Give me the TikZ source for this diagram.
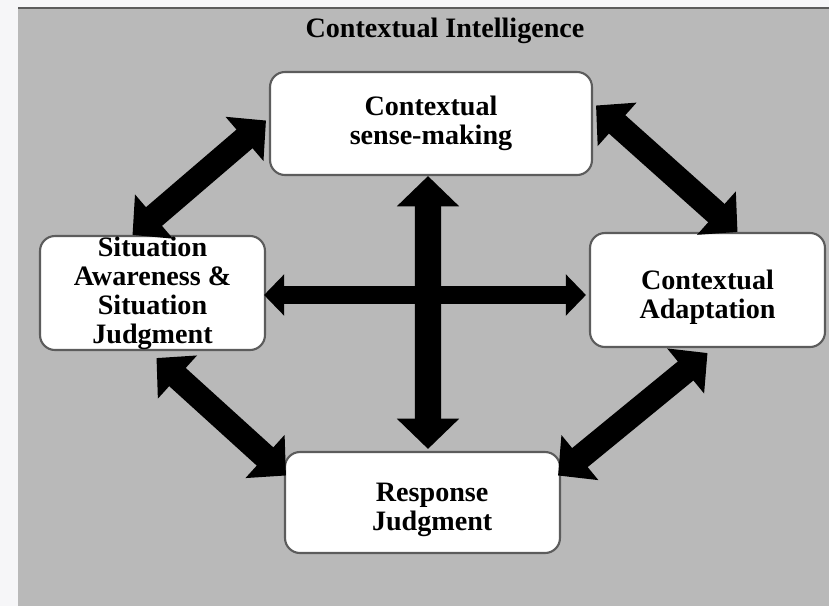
\documentclass[tikz,border=0pt]{standalone}
\usepackage{fontspec}
\setmainfont{Liberation Serif}
\usetikzlibrary{arrows.meta,calc}
\definecolor{panelgray}{HTML}{B9B9B9}
\definecolor{pagewhite}{HTML}{F6F6F8}
\definecolor{edgegray}{HTML}{5C5C5C}
% move a box text down (#1) and right (#2) without changing the box
\newcommand{\nudgetext}[3]{\hspace*{#2}\raisebox{-#1}[\height][\depth]{\begin{tabular}{@{}c@{}}#3\end{tabular}}}
\tikzset{
  ctxbox/.style={draw=edgegray, line width=1.2pt, fill=white, rounded corners=8.5pt,
    align=center, inner sep=0pt, font=\fontsize{16}{16.5}\selectfont\bfseries},
  titletext/.style={font=\fontsize{16}{16.5}\selectfont\bfseries},
  bigarrow/.style={line width=#1, {Triangle[width=0pt 2.3,length=0pt 1.15]}-{Triangle[width=0pt 2.3,length=0pt 1.15]}},
  bigarrow/.default=14pt
}
\begin{document}
\begin{tikzpicture}[x=0.02cm, y=-0.02cm]
    \useasboundingbox (0,0) rectangle (829,606);
    \fill[pagewhite] (0,0) rectangle (829,606);
    \fill[panelgray] (18,8) rectangle (829,606);
    \draw[edgegray, line width=1.5pt] (18,8) -- (829,8);
    \node[titletext] (title) at (445,31) {Contextual Intelligence};
    % the four boxes
    \node[ctxbox, minimum width=6.44cm, minimum height=2.06cm] (sense) at (431,123.5) {Contextual\\sense-making};
    \node[ctxbox, minimum width=4.5cm, minimum height=2.28cm] (aware) at (152.5,293) {Situation\\Awareness \&\\Situation\\Judgment};
    \node[ctxbox, minimum width=4.7cm, minimum height=2.28cm] (adapt) at (707.5,290) {\nudgetext{4.5pt}{0pt}{Contextual\\Adaptation}};
    \node[ctxbox, minimum width=5.5cm, minimum height=2.02cm] (resp) at (422.5,502.5) {\nudgetext{4.3pt}{11pt}{Response\\Judgment}};
    % arrows
    \draw[bigarrow] ($(sense.west)+(-3,-3)$) -- ($(aware.north)+(-20,0)$);
    \draw[bigarrow] ($(sense.east)+(3,-18)$) -- ($(adapt.north)+(30,0)$);
    \draw[bigarrow] ($(aware.south)+(4,7)$) -- ($(resp.west)+(2,-27)$);
    \draw[bigarrow] ($(adapt.south)+(0,5)$) -- ($(resp.east)+(-3,-27)$);
    \draw[bigarrow=10pt] ($(aware.east)+(-2,2)$) -- ($(adapt.west)+(-3,5)$);
    \draw[bigarrow=15pt] ($(sense.south)+(-3,0)$) -- ($(resp.north)+(5.5,-2)$);
\end{tikzpicture}
\end{document}
